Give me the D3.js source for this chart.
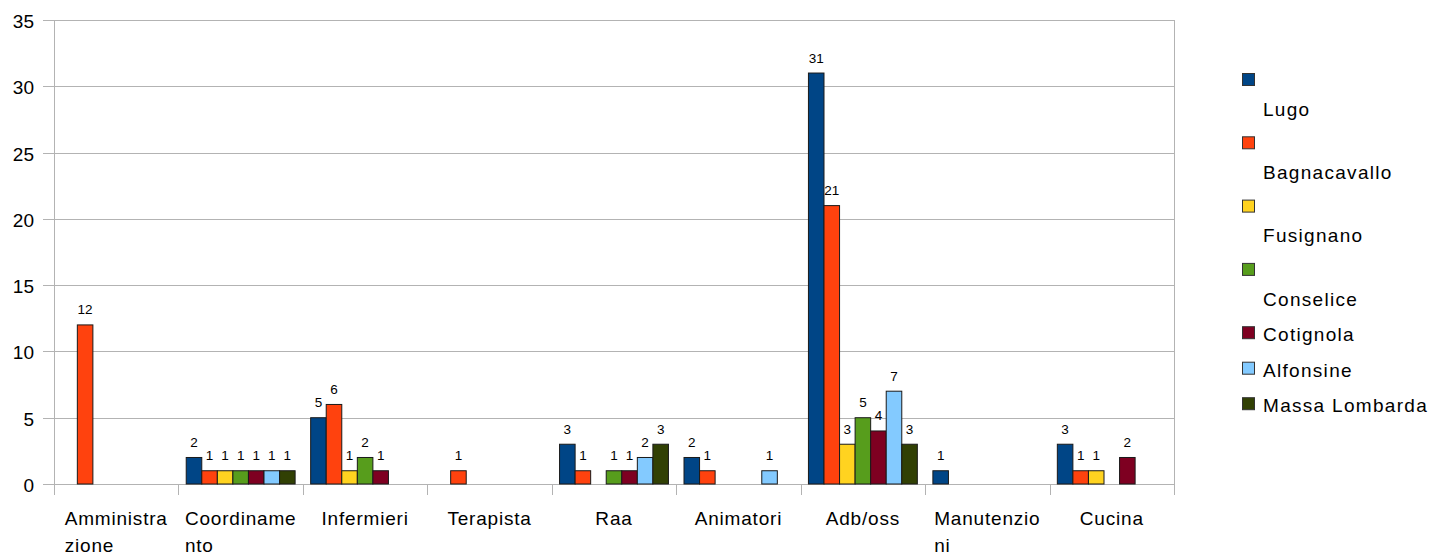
<!DOCTYPE html>
<html>
<head>
<meta charset="utf-8">
<script src="https://cdn.jsdelivr.net/npm/d3@7"></script>
<style>
  html, body { margin: 0; padding: 0; background: #fff; }
  svg { display: block; font-family: "Liberation Sans", Arial, sans-serif; }
</style>
</head>
<body>
<svg id="chart" width="1431" height="556"></svg>
<script>
// Staff by role (categories) and by site (series)
const categories = ["Amministrazione", "Coordinamento", "Infermieri", "Terapista", "Raa",
                    "Animatori", "Adb/oss", "Manutenzioni", "Cucina"];
// Axis labels as they wrap under each category
const categoryTickLabels = [["Amministra", "zione"], ["Coordiname", "nto"], ["Infermieri"], ["Terapista"],
                            ["Raa"], ["Animatori"], ["Adb/oss"], ["Manutenzio", "ni"], ["Cucina"]];
// Legend names (the first four carry a leading line break)
const seriesNames = ["\nLugo", "\nBagnacavallo", "\nFusignano", "\nConselice", "Cotignola", "Alfonsine", "Massa Lombarda"];
const seriesColors = ["#004586", "#ff420e", "#ffd320", "#579d1c", "#7e0021", "#83caff", "#314004"];

const lugo          = [0, 2, 5, 0, 3, 2, 31, 1, 3];
const bagnacavallo  = [12, 1, 6, 1, 1, 1, 21, 0, 1];
const fusignano     = [0, 1, 1, 0, 0, 0, 3, 0, 1];
const conselice     = [0, 1, 2, 0, 1, 0, 5, 0, 0];
const cotignola     = [0, 1, 1, 0, 1, 0, 4, 0, 2];
const alfonsine     = [0, 1, 0, 0, 2, 1, 7, 0, 0];
const massaLombarda = [0, 1, 0, 0, 3, 0, 3, 0, 0];
const seriesValues = [lugo, bagnacavallo, fusignano, conselice, cotignola, alfonsine, massaLombarda];

const yTicks = [0, 5, 10, 15, 20, 25, 30, 35];

const svg = d3.select("#chart");
const plot = { left: 54, right: 1174, top: 20, bottom: 484 };

const x = d3.scaleBand().domain(categories).range([plot.left, plot.right]).paddingInner(0).paddingOuter(0);
const xSeries = d3.scaleBand().domain(d3.range(seriesNames.length))
  .range([0, x.bandwidth()]).paddingInner(0).paddingOuter(0.5);
const y = d3.scaleLinear().domain([0, 35]).range([plot.bottom, plot.top]);

const grid = "#b3b3b3";

// Horizontal gridlines with outward ticks
const gy = svg.append("g");
gy.selectAll("line").data(yTicks).join("line")
  .attr("x1", plot.left - 11).attr("x2", plot.right)
  .attr("y1", d => Math.round(y(d)) + 0.5).attr("y2", d => Math.round(y(d)) + 0.5)
  .attr("stroke", grid).attr("stroke-width", 1);
gy.selectAll("text").data(yTicks).join("text")
  .attr("x", 34).attr("y", d => y(d)).attr("dy", "0.42em")
  .attr("text-anchor", "end").attr("font-size", 19).attr("fill", "#000")
  .text(d => d);

// Left axis, right border and category separators
svg.append("line").attr("x1", plot.left + 0.5).attr("x2", plot.left + 0.5)
  .attr("y1", plot.top).attr("y2", plot.bottom + 11).attr("stroke", grid);
svg.append("line").attr("x1", plot.right + 0.5).attr("x2", plot.right + 0.5)
  .attr("y1", plot.top).attr("y2", plot.bottom + 11).attr("stroke", grid);
svg.append("g").selectAll("line").data(categories.slice(1)).join("line")
  .attr("x1", d => Math.round(x(d)) + 0.5).attr("x2", d => Math.round(x(d)) + 0.5)
  .attr("y1", plot.bottom).attr("y2", plot.bottom + 11).attr("stroke", grid);

// Category labels: a left-aligned block of lines centred under each band
const gx = svg.append("g");
categories.forEach((c, i) => {
  const lines = categoryTickLabels[i];
  const t = gx.append("text").attr("font-size", 19).attr("letter-spacing", 0.8).attr("fill", "#000");
  lines.forEach((ln, j) => {
    t.append("tspan").attr("x", 0).attr("y", 525 + j * 27).text(ln);
  });
  const w = t.node().getBBox().width;
  t.attr("transform", `translate(${x(c) + x.bandwidth() / 2 - w / 2},0)`);
});

// Bars and value labels
const bars = svg.append("g");
seriesValues.forEach((vals, s) => {
  vals.forEach((v, i) => {
    if (!v) return;
    const x0 = x(categories[i]) + xSeries(s);
    bars.append("rect")
      .attr("x", x0).attr("y", y(v))
      .attr("width", xSeries.bandwidth()).attr("height", y(0) - y(v))
      .attr("fill", seriesColors[s]).attr("stroke", "#1a1a1a").attr("stroke-width", 1);
    bars.append("text")
      .attr("x", x0 + xSeries.bandwidth() / 2).attr("y", y(v) - 10.5)
      .attr("text-anchor", "middle").attr("font-size", 13.5).attr("fill", "#000")
      .text(v);
  });
});

// Legend
const legend = svg.append("g");
let ly = 73;
seriesNames.forEach((name, s) => {
  const lines = name.split("\n");
  legend.append("rect").attr("x", 1242.5).attr("y", ly + 0.5).attr("width", 12).attr("height", 12)
    .attr("fill", seriesColors[s]).attr("stroke", "#333").attr("stroke-width", 1);
  const t = legend.append("text").attr("font-size", 19).attr("letter-spacing", 1.3).attr("fill", "#000");
  lines.forEach((ln, j) => {
    t.append("tspan").attr("x", 1263).attr("y", ly + 15 + j * 27.8).text(ln);
  });
  ly += 35.5 + (lines.length - 1) * 27.8;
});
</script>
</body>
</html>
